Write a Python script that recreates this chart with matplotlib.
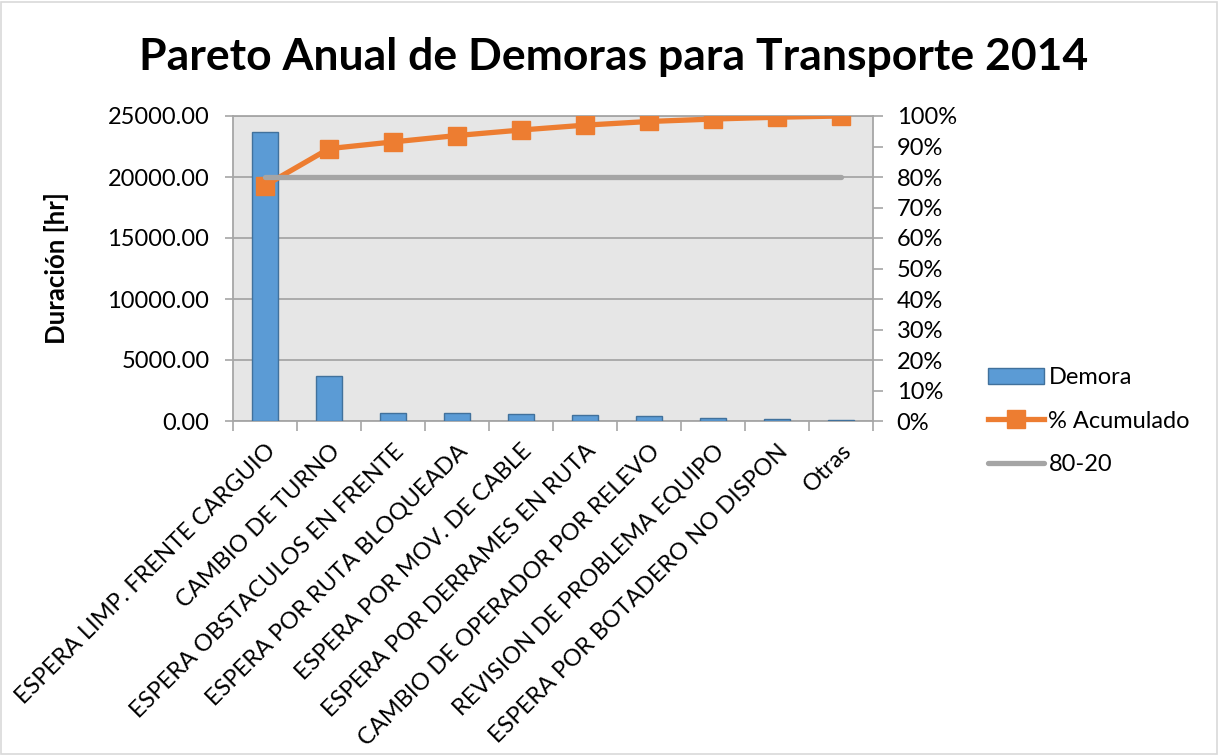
import matplotlib
matplotlib.use("Agg")
import matplotlib.pyplot as plt
from matplotlib.patches import Rectangle
from matplotlib.lines import Line2D
from matplotlib.ticker import FuncFormatter, MultipleLocator

plt.rcParams['font.family'] = ['Lato', 'DejaVu Sans']

categories = [
    "ESPERA LIMP. FRENTE CARGUIO",
    "CAMBIO DE TURNO",
    "ESPERA OBSTACULOS EN FRENTE",
    "ESPERA POR RUTA BLOQUEADA",
    "ESPERA POR MOV. DE CABLE",
    "ESPERA POR DERRAMES EN RUTA",
    "CAMBIO DE OPERADOR POR RELEVO",
    "REVISION DE PROBLEMA EQUIPO",
    "ESPERA POR BOTADERO NO DISPON",
    "Otras",
]
demora = [23650, 3700, 683, 628, 546, 492, 383, 246, 191, 109]
acumulado = [77.2, 89.3, 91.5, 93.6, 95.4, 97.0, 98.2, 99.0, 99.6, 100.0]
ref_80_20 = [80] * len(categories)

title = "Pareto Anual de Demoras para Transporte 2014"

FS = 17

fig = plt.figure(figsize=(12.19, 7.56), dpi=100)
ax = fig.add_axes([233/1219, 1-421/756, (873-233)/1219, (421-116)/756])
ax2 = ax.twinx()

x = list(range(len(categories)))
grid_c = '#a6a6a6'
ax.set_facecolor('#e6e6e6')
ax.bar(x, demora, width=0.41, color='#5b9bd5', edgecolor='#41719c', linewidth=1, zorder=3, label='Demora')
ax.set_xlim(-0.5, len(categories) - 0.5)
ax.set_ylim(0, 25000)
ax.yaxis.set_major_locator(MultipleLocator(5000))
ax.yaxis.set_major_formatter(FuncFormatter(lambda v, p: f"{v:.2f}"))
ax.grid(axis='y', color=grid_c, linewidth=1.3, zorder=0)
ax.set_axisbelow(True)

ax.set_xticks(x)
ax.set_xticklabels(categories, rotation=45, ha='right', va='top', rotation_mode='anchor', fontsize=FS)
ax.tick_params(axis='x', length=0, pad=14)
ax.set_xticks([i + 0.5 for i in range(-1, len(categories))], minor=True)
ax.tick_params(axis='x', which='minor', length=7, color=grid_c, width=1.2)
ax.tick_params(axis='y', length=6, color=grid_c, width=1.2, labelsize=FS, pad=11)
for s in ax.spines.values():
    s.set_color(grid_c)
    s.set_linewidth(1.3)
ax.set_ylabel("Duración [hr]", fontsize=18.5, fontweight='bold', labelpad=28)

l1, = ax2.plot(x, acumulado, color='#ed7d31', linewidth=3.8, marker='s', markersize=13,
               zorder=4, label='% Acumulado')
l2, = ax2.plot(x, ref_80_20, color='#a5a5a5', linewidth=3.8, solid_capstyle='round',
               zorder=5, label='80-20')
ax2.set_ylim(0, 100)
ax2.yaxis.set_major_locator(MultipleLocator(10))
ax2.yaxis.set_major_formatter(FuncFormatter(lambda v, p: f"{v:.0f}%"))
ax2.tick_params(axis='y', length=7, color=grid_c, width=1.2, labelsize=FS, pad=10)
for s in ax2.spines.values():
    s.set_visible(False)

fig.text(614/1219, 1-57/756, title, ha='center', va='center', fontsize=32, fontweight='bold')

handles = [Rectangle((0, 0), 1, 1, facecolor='#5b9bd5', edgecolor='#41719c'),
           Line2D([], [], color='#ed7d31', linewidth=3.8, marker='s', markersize=13),
           Line2D([], [], color='#a5a5a5', linewidth=3.8, solid_capstyle='round')]
fig.legend(handles, ['Demora', '% Acumulado', '80-20'], loc='upper left',
           bbox_to_anchor=(967/1219, 1-346/756), frameon=False, fontsize=FS,
           handlelength=2.35, labelspacing=0.95, handletextpad=0.2)

fig.add_artist(Rectangle((0.001, 0.002), 0.997, 0.996, transform=fig.transFigure,
                         fill=False, edgecolor='#d9d9d9', linewidth=1.2))

fig.savefig("out.png", dpi=100)
